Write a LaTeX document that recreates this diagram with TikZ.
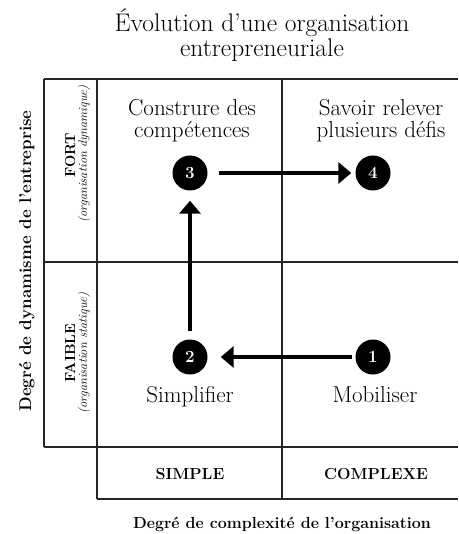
\documentclass[tikz,border=0pt]{standalone}
\usepackage{fontspec}
\usetikzlibrary{arrows.meta}
\begin{document}
\begin{tikzpicture}[x=1pt,y=-1pt,
  gridline/.style={line width=1.2pt, black!85},
  stepdot/.style={circle, fill=black, minimum size=35pt, inner sep=0pt, text=white,
    font=\fontsize{17}{17}\selectfont\bfseries},
  flow/.style={line width=4pt, -{Triangle[length=13pt,width=21pt]}},
  titletext/.style={anchor=base, font=\fontsize{25.5}{27}\selectfont},
  celltext/.style={anchor=base, font=\fontsize{23}{24}\selectfont},
  headtext/.style={anchor=base, font=\fontsize{16}{16}\selectfont\bfseries},
  axistext/.style={anchor=base, font=\fontsize{16}{16}\selectfont\bfseries},
  yaxistext/.style={anchor=base, rotate=90, font=\fontsize{17}{17}\selectfont\bfseries},
  rowtext/.style={anchor=base, rotate=90, font=\fontsize{14.5}{15}\selectfont\bfseries},
  rownote/.style={anchor=base, rotate=90, font=\fontsize{12.5}{13}\selectfont\itshape}
]
\useasboundingbox[fill=white] (0,0) rectangle (458,534);

% grid
\draw[gridline] (44,79) -- (458,79);
\draw[gridline] (44,262) -- (458,262);
\draw[gridline] (44,447) -- (458,447);
\draw[gridline] (97,499) -- (458,499);
\draw[gridline] (44,79) -- (44,447);
\draw[gridline] (97,79) -- (97,499);
\draw[gridline] (282,79) -- (282,499);

% title
\node[titletext] (title1) at (262,32) {Évolution d'une organisation};
\node[titletext] (title2) at (262,57) {entrepreneuriale};

% cell labels
\node[celltext] (c3a) at (192,116) {Construre des};
\node[celltext] (c3b) at (192,138) {compétences};
\node[celltext] (c4a) at (381,116) {Savoir relever};
\node[celltext] (c4b) at (381,138) {plusieurs défis};
\node[celltext] (c2) at (190,402) {Simplifier};
\node[celltext] (c1) at (375,402) {Mobiliser};

% column heads
\node[headtext] (simple) at (190,479) {SIMPLE};
\node[headtext] (complexe) at (376,479) {COMPLEXE};

% axes
\node[axistext] (xaxis) at (282,528) {Degré de complexité de l'organisation};
\node[yaxistext] (yaxis) at (31,261) {Degré de dynamisme de l'entreprise};

% row heads
\node[rowtext] (fort) at (75,155) {FORT};
\node[rownote] (fortnote) at (87,154) {(organisation dynamique)};
\node[rowtext] (faible) at (75,353) {FAIBLE};
\node[rownote] (faiblenote) at (87,353) {(organisation statique)};

% steps
\node[stepdot] (n1) at (373,357) {1};
\node[stepdot] (n2) at (190,357) {2};
\node[stepdot] (n3) at (190,173) {3};
\node[stepdot] (n4) at (373,173) {4};

\draw[flow, shorten <=3pt, shorten >=13pt] (n1) -- (n2);
\draw[flow, shorten <=8pt, shorten >=10pt] (n2) -- (n3);
\draw[flow, shorten <=11pt, shorten >=4pt] (n3) -- (n4);
\end{tikzpicture}
\end{document}
